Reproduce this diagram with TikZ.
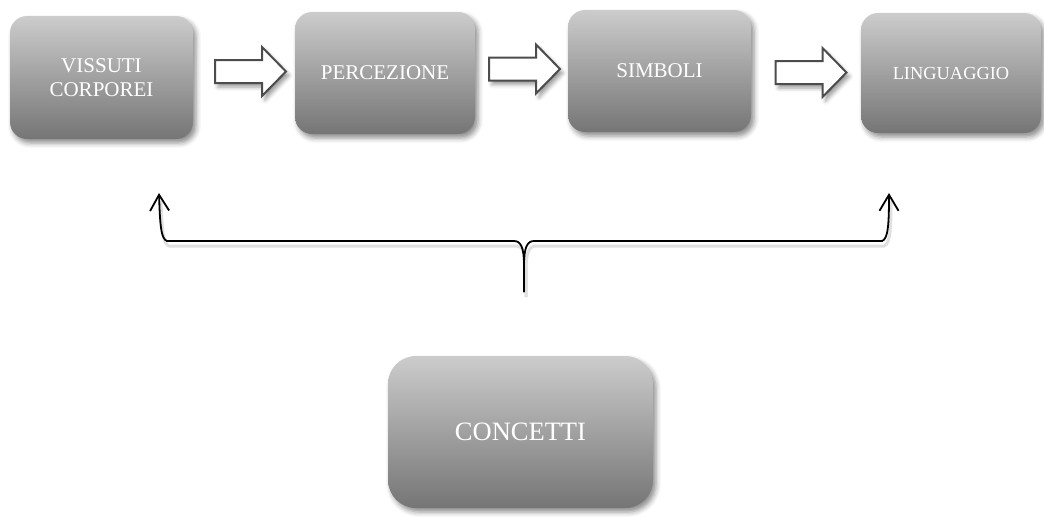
\documentclass[tikz,border=0pt]{standalone}
\usepackage{fontspec}
\setmainfont{Liberation Serif}
\usetikzlibrary{shadows.blur,arrows.meta}
\begin{document}
\begin{tikzpicture}[x=1pt,y=-1pt,
  box/.style={rounded corners=17pt, top color=black!20, bottom color=black!54,
    draw=none, text=white, align=center, inner sep=0pt,
    font=\fontsize{21}{24}\selectfont,
    blur shadow={shadow xshift=3pt, shadow yshift=-4pt, shadow blur radius=5pt, shadow opacity=45}},
  blockline/.style={draw=black!70, line width=2pt, fill=white, line join=miter,
    blur shadow={shadow xshift=3pt, shadow yshift=-4pt, shadow blur radius=4pt, shadow opacity=40}},
  barrow/.pic={\draw[blockline] (-35.5,-11.5) -- (11.5,-11.5) -- (11.5,-24.5) -- (35.5,0)
      -- (11.5,24.5) -- (11.5,11.5) -- (-35.5,11.5) -- cycle;},
  brace/.style={line width=1.8pt, black, line join=round},
  braceshadow/.style={line width=3pt, black!12, line join=round},
  tip/.style={-{Straight Barb[length=16pt,width=19pt,line width=1.8pt]}}
]
\useasboundingbox (0,0) rectangle (1044,517);

\node[box, minimum width=183pt, minimum height=123pt] (b1) at (101.5,77.5) {VISSUTI\\CORPOREI};
\node[box, minimum width=180pt, minimum height=122pt] (b2) at (385,73) {PERCEZIONE};
\node[box, minimum width=183pt, minimum height=122pt] (b3) at (659.5,71) {SIMBOLI};
\node[box, minimum width=180pt, minimum height=120pt, font=\fontsize{18.4}{22}\selectfont] (b4) at (951,73) {LINGUAGGIO};
\node[box, rounded corners=28pt, minimum width=265pt, minimum height=152pt, font=\fontsize{26.5}{30}\selectfont] (b5) at (520.5,432) {CONCETTI};

\pic (a1) at (250.5,71.5) {barrow};
\pic (a2) at (524.5,69) {barrow};
\pic (a3) at (811,72.5) {barrow};

\coordinate (bot) at (524,292);
\coordinate (tipL) at (159,193);
\coordinate (tipR) at (889,193);

\begin{scope}[shift={(2,5)}]
\draw[braceshadow] (524,292) -- (524,265) .. controls (524,248) and (521,241) .. (514,241) -- (167,241) .. controls (161,239) and (160,225) .. (159,196);
\draw[braceshadow] (524,292) -- (524,265) .. controls (524,248) and (527,241) .. (534,241) -- (882,241) .. controls (888,239) and (889,225) .. (889,196);
\end{scope}

\draw[brace, tip] (bot) -- (524,265) .. controls (524,248) and (521,241) .. (514,241) -- (167,241) .. controls (161,239) and (160,225) .. (tipL);
\draw[brace, tip] (bot) -- (524,265) .. controls (524,248) and (527,241) .. (534,241) -- (882,241) .. controls (888,239) and (889,225) .. (tipR);
\end{tikzpicture}
\end{document}
